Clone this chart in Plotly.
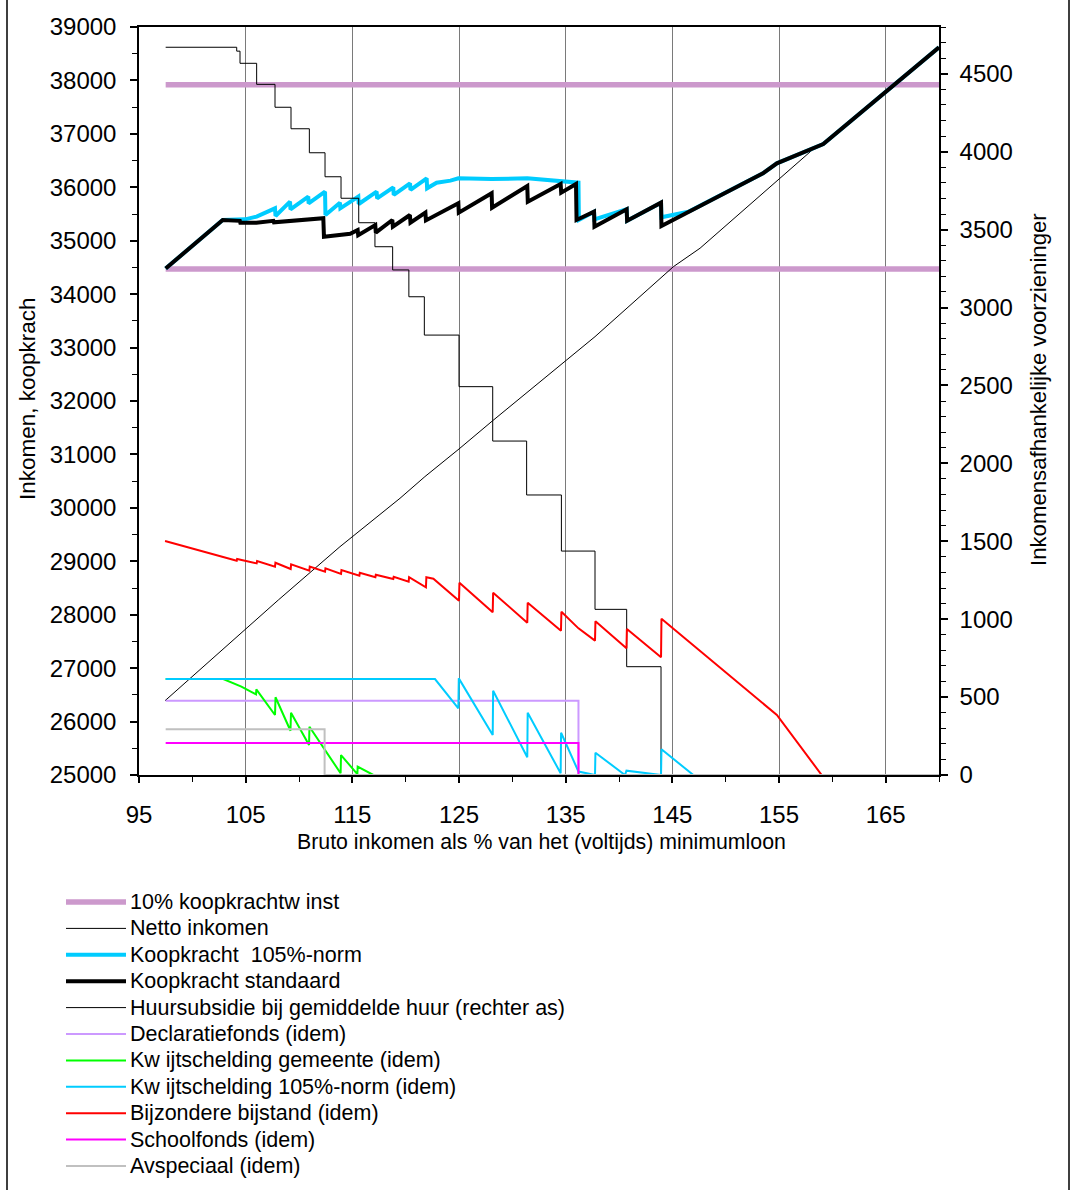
import plotly.graph_objects as go

# ---------------- data ----------------
winst_x = [97.5, 170.0, None, 97.5, 170.0]
winst_y = [37920, 37920, None, 34470, 34470]

netto_x = [97.44, 108.06, 113.84, 119.47, 121.8, 125.0, 128.16, 134.94, 137.75,
           145.1, 147.6, 158.5, 159.15, 170.0]
netto_y = [26390, 28275, 29273, 30179, 30584, 31102, 31632, 32736, 33204,
           34514, 34860, 36765, 36810, 38620]

norm_x = [97.5, 102.85, 104.94, 106.03, 107.75, 107.8, 109.16, 109.2, 110.87, 110.9,
          112.44, 112.48, 113.84, 113.88, 115.56, 115.6, 117.28, 117.32, 118.84, 118.88,
          120.41, 120.45, 121.97, 122.01, 122.9, 124.2, 124.94, 128.06, 131.4, 134.5,
          136.2, 136.24, 137.66, 137.7, 140.72, 140.76, 143.94, 143.98, 146.5, 153.5,
          154.8, 159.15, 170.0]
norm_y = [34480, 35388, 35400, 35450, 35606, 35463, 35731, 35588, 35825, 35700,
          35918, 35481, 35712, 35606, 35825, 35687, 35918, 35794, 35999, 35856,
          36075, 35950, 36168, 35981, 36086, 36124, 36168, 36155, 36168, 36124,
          36086, 35388, 35543, 35400, 35588, 35375, 35712, 35440, 35541, 36262,
          36449, 36810, 38620]

std_x = [97.5, 102.85, 104.45, 104.5, 106.0, 107.6, 107.65, 112.28, 112.34, 114.8,
         115.5, 115.55, 117.15, 117.2, 118.75, 118.8, 120.4, 120.45, 121.85, 121.9,
         124.94, 124.98, 128.06, 128.1, 131.4, 131.45, 134.53, 134.58, 135.97, 136.02,
         137.66, 137.7, 140.72, 140.76, 143.94, 143.98, 153.5, 154.8, 159.15, 170.0]
std_y = [34480, 35388, 35372, 35335, 35338, 35372, 35345, 35420, 35075, 35130,
         35200, 35105, 35294, 35150, 35388, 35263, 35481, 35338, 35525, 35380,
         35700, 35525, 35888, 35618, 36024, 35730, 36061, 35900, 36061, 35388,
         35543, 35263, 35588, 35375, 35712, 35275, 36262, 36449, 36810, 38620]

huur_x = [97.5, 104.16, 104.47, 106.03, 107.75, 109.25, 110.97, 112.44, 113.94, 115.6,
          117.12, 118.78, 120.3, 121.75, 125.0, 128.16, 131.34, 134.6, 137.75, 140.72,
          143.94, 170.0]
huur_y = [4670, 4645, 4567, 4432, 4285, 4147, 3993, 3839, 3701, 3544,
          3390, 3241, 3069, 2823, 2492, 2143, 1797, 1437, 1063, 695, 0, 0]

decl_x = [97.5, 136.2, 170.0]
decl_y = [477, 0, 0]

gem_x = [97.5, 102.9, 104.6, 105.97, 106.0, 107.75, 107.8, 109.2, 109.25, 110.94,
         110.98, 113.9, 113.94, 115.47, 115.5, 116.97, 170.0]
gem_y = [616, 616, 567, 518, 550, 385, 499, 284, 400, 193,
         310, 11, 128, 5, 53, 0, 0]

kw105_x = [97.5, 122.75, 124.94, 124.98, 128.16, 128.2, 131.4, 131.44, 134.53, 134.57,
           136.2, 137.75, 137.79, 140.56, 140.7, 143.94, 143.98, 146.97, 170.0]
kw105_y = [616, 616, 428, 620, 257, 541, 114, 400, 11, 271,
           22, 0, 143, 0, 28, 0, 165, 0, 0]

bijst_x = [97.44, 104.16, 104.2, 106.03, 106.07, 107.75, 107.79, 109.22, 109.26, 110.97,
           111.01, 112.44, 112.48, 113.94, 113.98, 115.66, 115.7, 117.16, 117.2, 118.84,
           118.88, 120.28, 120.32, 121.9, 121.94, 122.6, 125.0, 125.04, 128.16, 128.2,
           131.4, 131.44, 134.56, 134.6, 136.2, 137.75, 137.79, 140.7, 140.74, 143.94,
           143.98, 154.8, 159.0, 170.0]
bijst_y = [1502, 1375, 1386, 1358, 1373, 1337, 1362, 1322, 1352, 1311,
           1337, 1305, 1326, 1290, 1315, 1279, 1298, 1269, 1285, 1258,
           1272, 1240, 1269, 1204, 1269, 1260, 1118, 1234, 1044, 1170,
           977, 1106, 926, 1048, 941, 862, 986, 813, 937, 755,
           1003, 385, 0, 0]

school_x = [97.5, 136.2, 170.0]
school_y = [205, 0, 0]

avs_x = [97.5, 112.4, 170.0]
avs_y = [293, 0, 0]

legend_labels = [
    "10% koopkrachtw inst",
    "Netto inkomen",
    "Koopkracht\u00a0\u00a0105%-norm",
    "Koopkracht standaard",
    "Huursubsidie bij gemiddelde huur (rechter as)",
    "Declaratiefonds (idem)",
    "Kw ijtschelding gemeente (idem)",
    "Kw ijtschelding 105%-norm (idem)",
    "Bijzondere bijstand (idem)",
    "Schoolfonds (idem)",
    "Avspeciaal (idem)",
]

x_ticks = [95, 105, 115, 125, 135, 145, 155, 165]

# ---------------- styles ----------------
FONT = "Liberation Sans, Arial, sans-serif"
series = [
    # x, y, axis, color, width, shape
    (winst_x, winst_y, "y", "#CC99CC", 5.5, "linear"),
    (netto_x, netto_y, "y", "#000000", 1.0, "linear"),
    (norm_x, norm_y, "y", "#00CCFF", 4.0, "linear"),
    (std_x, std_y, "y", "#000000", 4.0, "linear"),
    (huur_x, huur_y, "y2", "#000000", 1.0, "hv"),
    (decl_x, decl_y, "y2", "#CC99FF", 2.0, "hv"),
    (gem_x, gem_y, "y2", "#00FF00", 2.0, "linear"),
    (kw105_x, kw105_y, "y2", "#00CCFF", 2.0, "linear"),
    (bijst_x, bijst_y, "y2", "#FF0000", 2.0, "linear"),
    (school_x, school_y, "y2", "#FF00FF", 2.0, "hv"),
    (avs_x, avs_y, "y2", "#C0C0C0", 2.0, "hv"),
]

W, H = 1072, 1190
L, R, T, B = 139, 133, 27, 415
PW, PH = W - L - R, H - T - B


def px_x(px):
    return (px - L) / PW


def px_y(py):
    return (H - B - py) / PH


fig = go.Figure()
for (xs, ys, ax, col, wd, shp), name in zip(series, legend_labels):
    fig.add_trace(go.Scatter(
        x=xs, y=ys, yaxis=ax, mode="lines", name=name, showlegend=False,
        line=dict(color=col, width=wd, shape=shp), connectgaps=False,
    ))

shapes = []
annotations = []

# manual legend (sample lines + labels)
for i, ((_, _, _, col, wd, _), name) in enumerate(zip(series, legend_labels)):
    yy = 902 + 26.4 * i
    shapes.append(dict(type="line", xref="paper", yref="paper",
                       x0=px_x(66), x1=px_x(126), y0=px_y(yy), y1=px_y(yy),
                       line=dict(color=col, width=wd)))
    annotations.append(dict(text=name, xref="paper", yref="paper",
                            x=px_x(128), y=px_y(yy), xanchor="left", yanchor="middle",
                            showarrow=False, font=dict(family=FONT, size=21.5, color="black")))

# outer frame
shapes.append(dict(type="rect", xref="paper", yref="paper",
                   x0=px_x(7), x1=px_x(1069), y0=px_y(1200), y1=px_y(-10),
                   line=dict(color="black", width=1.5), layer="below"))

# axis titles
annotations.append(dict(text="Inkomen, koopkrach", xref="paper", yref="paper",
                        x=px_x(27), y=px_y(398), textangle=-90, showarrow=False,
                        xanchor="center", yanchor="middle",
                        font=dict(family=FONT, size=22.5, color="black")))
annotations.append(dict(text="Inkomensafhankelijke voorzieninger", xref="paper", yref="paper",
                        x=px_x(1038), y=px_y(390), textangle=-90, showarrow=False,
                        xanchor="center", yanchor="middle",
                        font=dict(family=FONT, size=22.2, color="black")))
annotations.append(dict(text="Bruto inkomen als % van het (voltijds) minimumloon",
                        xref="paper", yref="paper", x=px_x(541), y=px_y(842),
                        showarrow=False, xanchor="center", yanchor="middle",
                        font=dict(family=FONT, size=21.3, color="black")))

fig.update_layout(
    width=W, height=H,
    margin=dict(l=L, r=R, t=T, b=B, pad=0),
    paper_bgcolor="white", plot_bgcolor="white",
    font=dict(family=FONT, size=24, color="black"),
    showlegend=False,
    shapes=shapes, annotations=annotations,
    xaxis=dict(
        range=[95, 170], tickvals=x_ticks, ticks="outside", ticklen=6,
        tickcolor="black", tickwidth=1.5,
        minor=dict(dtick=5, tick0=95, ticks="outside", ticklen=5, tickcolor="black",
                   tickwidth=1.2, showgrid=False),
        showgrid=True, gridcolor="#7a7a7a", gridwidth=1.3,
        showline=True, linecolor="black", linewidth=1.5, mirror=True,
        zeroline=False, tickfont=dict(size=24, color="black"),
        ticklabelstandoff=11,
    ),
    yaxis=dict(
        range=[25000, 39000], dtick=1000, tick0=25000, tickformat="d",
        ticks="outside", ticklen=7, tickcolor="black", tickwidth=1.5,
        minor=dict(dtick=500, ticks="outside", ticklen=5, tickcolor="black",
                   tickwidth=1.2, showgrid=False),
        showgrid=False, showline=True, linecolor="black", linewidth=1.5,
        zeroline=False, tickfont=dict(size=24, color="black"),
        ticklabelstandoff=9,
    ),
    yaxis2=dict(
        range=[0, 4800], dtick=500, tick0=0, tickformat="d", overlaying="y", side="right",
        ticks="outside", ticklen=7, tickcolor="black", tickwidth=1.5,
        minor=dict(dtick=100, ticks="outside", ticklen=5, tickcolor="black",
                   tickwidth=1.2, showgrid=False),
        showgrid=False, showline=True, linecolor="black", linewidth=1.5,
        zeroline=False, tickfont=dict(size=24, color="black"),
        ticklabelstandoff=7,
    ),
)

fig.write_html("out.html", config={"displayModeBar": False},
               post_script="document.body.style.margin='0px';")
